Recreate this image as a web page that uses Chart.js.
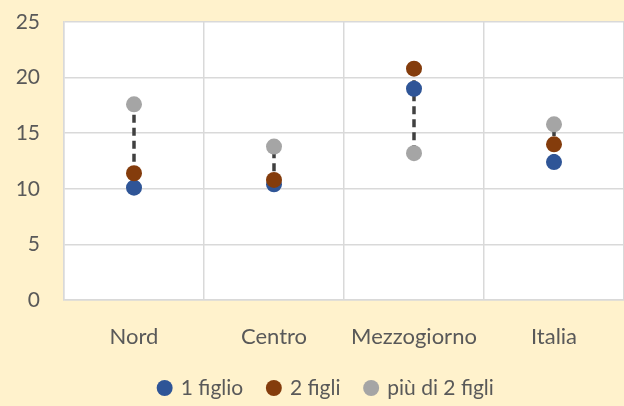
<!DOCTYPE html>
<html>
<head>
<meta charset="utf-8">
<script src="https://cdn.jsdelivr.net/npm/chart.js@4.4.1/dist/chart.umd.min.js"></script>
<style>
  html, body { margin: 0; padding: 0; background: #fff2cc; }
  #wrap { width: 624px; height: 406px; position: relative; }
</style>
</head>
<body>
<div id="wrap"><canvas id="myChart"></canvas></div>
<script>
// colours
const COLOR_ONE = "#2f5597";
const COLOR_TWO = "#843c0c";
const COLOR_MORE = "#a5a5a5";
const COLOR_DASH = "#404040";
const COLOR_TEXT = "#595959";
const COLOR_GRID = "#d9d9d9";
const LEGEND_PAD = 25;

// data
const categories = ["Nord", "Centro", "Mezzogiorno", "Italia"];
const unFiglio = [10.1, 10.4, 19.0, 12.4];
const dueFigli = [11.4, 10.8, 20.8, 14.0];
const piuDiDue = [17.6, 13.8, 13.2, 15.8];
const yTicks = [0, 5, 10, 15, 20, 25];

// white plot area behind the grid
const plotBg = {
  id: "plotBg",
  beforeDraw(chart) {
    const a = chart.chartArea;
    const ctx = chart.ctx;
    ctx.save();
    ctx.fillStyle = "#ffffff";
    ctx.fillRect(a.left, a.top, a.right - a.left, a.bottom - a.top);
    ctx.restore();
  }
};

// place the legend row like the original (starts at x=155, centred on y=388)
const legendShift = {
  id: "legendShift",
  afterLayout(chart) {
    chart.legend.left = 159 - LEGEND_PAD;
    chart.legend.top = 377.5 - LEGEND_PAD;
  }
};

function pointSet(label, values, color, order) {
  return {
    label: label,
    data: values,
    showLine: false,
    backgroundColor: color,
    borderColor: color,
    pointRadius: 8,
    pointHoverRadius: 8,
    pointBorderWidth: 0,
    order: order
  };
}

// high-low dashed line for each category
let dashSets = categories.map((c, i) => {
  const vals = [unFiglio[i], dueFigli[i], piuDiDue[i]];
  return {
    label: "hl",
    data: [{x: c, y: Math.min(...vals)}, {x: c, y: Math.max(...vals)}],
    borderColor: COLOR_DASH,
    borderWidth: 3.5,
    borderDash: [8, 5],
    pointRadius: 0,
    order: 10
  };
});

let ctx = document.getElementById("myChart").getContext("2d");
let chart = new Chart(ctx, {
  type: "line",
  data: {
    labels: categories,
    datasets: [
      pointSet("1 figlio", unFiglio, COLOR_ONE, 3),
      pointSet("2 figli", dueFigli, COLOR_TWO, 2),
      pointSet("più di 2 figli", piuDiDue, COLOR_MORE, 1)
    ].concat(dashSets)
  },
  options: {
    responsive: true,
    maintainAspectRatio: false,
    animation: false,
    layout: { autoPadding: false, padding: { top: 22, right: 0, left: 0, bottom: 0 } },
    scales: {
      x: {
        offset: true,
        grid: { offset: true, color: COLOR_GRID, lineWidth: 1.5, drawTicks: false },
        border: { color: COLOR_GRID, width: 1.5 },
        ticks: { color: COLOR_TEXT, font: { family: "Lato", size: 22 }, padding: 24 },
        afterFit: (s) => { s.height = 50; }
      },
      y: {
        min: 0,
        max: 25,
        afterBuildTicks: (s) => { s.ticks = yTicks.map(v => ({value: v})); },
        grid: { color: COLOR_GRID, lineWidth: 1.5, drawTicks: false },
        border: { color: COLOR_GRID, width: 1.5 },
        ticks: { color: COLOR_TEXT, font: { family: "Lato", size: 21 }, padding: 24 },
        afterFit: (s) => { s.width = 64; s.paddingTop = 0; s.paddingBottom = 0; }
      }
    },
    plugins: {
      legend: {
        position: "bottom",
        align: "start",
        labels: {
          color: COLOR_TEXT,
          font: { family: "Lato", size: 21 },
          usePointStyle: true,
          pointStyle: "circle",
          boxWidth: 11.3,
          boxHeight: 11.3,
          padding: LEGEND_PAD,
          sort: (a, b) => a.datasetIndex - b.datasetIndex,
          filter: (item) => item.text !== "hl"
        }
      },
      tooltip: { enabled: false }
    }
  },
  plugins: [plotBg, legendShift]
});
</script>
</body>
</html>
